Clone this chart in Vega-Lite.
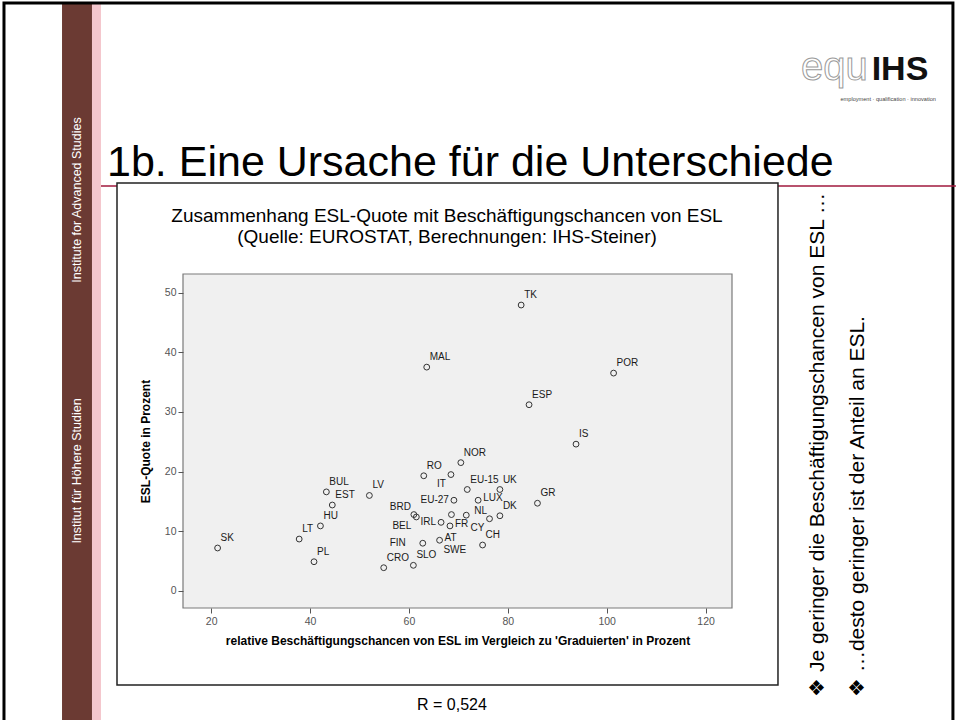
{
  "$schema": "https://vega.github.io/schema/vega-lite/v6.json",
  "width": 549,
  "height": 334,
  "autosize": {"type": "none"},
  "padding": {"left": 183, "top": 274, "right": 224, "bottom": 112},
  "background": "white",
  "config": {
    "font": "Liberation Sans",
    "view": {"fill": null, "stroke": null}
  },
  "datasets": {
    "esl": [
      {"label": "SK", "x": 21.3, "y": 7.2},
      {"label": "LT", "x": 37.8, "y": 8.7},
      {"label": "PL", "x": 40.8, "y": 4.9},
      {"label": "HU", "x": 42.1, "y": 10.9},
      {"label": "EST", "x": 44.5, "y": 14.4},
      {"label": "BUL", "x": 43.3, "y": 16.6},
      {"label": "LV", "x": 52.0, "y": 16.0},
      {"label": "CRO", "x": 54.9, "y": 3.9},
      {"label": "SLO", "x": 60.9, "y": 4.3},
      {"label": "FIN", "x": 62.8, "y": 8.0},
      {"label": "BRD", "x": 61.0, "y": 12.8},
      {"label": "BEL", "x": 61.5, "y": 12.4},
      {"label": "IRL", "x": 66.5, "y": 11.5},
      {"label": "RO", "x": 63.0, "y": 19.3},
      {"label": "IT", "x": 68.5, "y": 19.5},
      {"label": "NOR", "x": 70.5, "y": 21.5},
      {"label": "EU-15", "x": 71.8, "y": 17.0},
      {"label": "UK", "x": 78.4, "y": 17.0},
      {"label": "EU-27", "x": 69.1, "y": 15.2},
      {"label": "LUX", "x": 74.0, "y": 15.2},
      {"label": "AT", "x": 66.2, "y": 8.5},
      {"label": "SWE", "x": 68.6, "y": 12.8},
      {"label": "FR", "x": 68.3, "y": 10.9},
      {"label": "NL", "x": 71.6, "y": 12.7},
      {"label": "CY", "x": 76.3, "y": 12.1},
      {"label": "DK", "x": 78.4, "y": 12.6},
      {"label": "CH", "x": 74.9, "y": 7.7},
      {"label": "GR", "x": 86.0, "y": 14.7},
      {"label": "IS", "x": 93.8, "y": 24.6},
      {"label": "ESP", "x": 84.3, "y": 31.2},
      {"label": "MAL", "x": 63.6, "y": 37.5},
      {"label": "TK", "x": 82.7, "y": 47.9},
      {"label": "POR", "x": 101.4, "y": 36.5}
    ]
  },
  "data": {"name": "esl"},
  "layer": [
    {
      "data": {"values": [{}]},
      "mark": {"type": "rect", "fill": "#6b3a33"},
      "encoding": {
        "x": {"datum": -10.17}, "x2": {"datum": -4.11},
        "y": {"datum": 98.49}, "y2": {"datum": -35}
      }
    },
    {
      "data": {"values": [{}]},
      "mark": {"type": "rect", "fill": "#f4c6cd"},
      "encoding": {
        "x": {"datum": -4.11}, "x2": {"datum": -2.29},
        "y": {"datum": 98.49}, "y2": {"datum": -35}
      }
    },
    {
      "data": {"values": [{}]},
      "mark": {"type": "rect", "fillOpacity": 0, "stroke": "black", "strokeWidth": 3},
      "encoding": {
        "x": {"datum": -21.91}, "x2": {"datum": 170.04},
        "y": {"datum": 98.49}, "y2": {"datum": -35}
      }
    },
    {
      "data": {"values": [{}]},
      "mark": {"type": "rule", "color": "#a0193c", "strokeWidth": 1.5},
      "encoding": {
        "x": {"datum": -2.29}, "x2": {"datum": 170.65},
        "y": {"datum": 67.84}
      }
    },
    {
      "data": {"values": [{}]},
      "mark": {"type": "rect", "fill": "white", "stroke": "#222222", "strokeWidth": 1.5},
      "encoding": {
        "x": {"datum": 0.95}, "x2": {"datum": 134.65},
        "y": {"datum": 68.34}, "y2": {"datum": -15.74}
      }
    },
    {
      "data": {"values": [{}]},
      "mark": {"type": "rect", "fill": "#f0f0f0", "stroke": "#7a7a7a", "strokeWidth": 1.2},
      "encoding": {
        "x": {"datum": 14.3}, "x2": {"datum": 125.35},
        "y": {"datum": -2.85}, "y2": {"datum": 53.1}
      }
    },
    {
      "mark": {"type": "point", "shape": "circle", "filled": false, "stroke": "#333333", "strokeWidth": 1, "size": 34, "opacity": 1},
      "encoding": {
        "x": {
          "field": "x", "type": "quantitative",
          "scale": {"domain": [14.3, 125.35], "nice": false, "zero": false},
          "axis": {
            "values": [20, 40, 60, 80, 100, 120],
            "title": "relative Beschäftigungschancen von ESL im Vergleich zu 'Graduierten' in Prozent",
            "titleFontSize": 12, "titleFontWeight": "bold", "titleColor": "#000000", "titlePadding": 9,
            "labelColor": "#555555", "labelFontSize": 10.5, "labelPadding": 3,
            "tickColor": "#555555", "tickSize": 5, "domain": false, "grid": false, "zindex": 1
          }
        },
        "y": {
          "field": "y", "type": "quantitative",
          "scale": {"domain": [-2.85, 53.1], "nice": false, "zero": false},
          "axis": {
            "values": [0, 10, 20, 30, 40, 50],
            "title": "ESL-Quote in Prozent",
            "titleFontSize": 12, "titleFontWeight": "bold", "titleColor": "#000000", "titlePadding": 12,
            "labelColor": "#555555", "labelFontSize": 10.5, "labelPadding": 2,
            "tickColor": "#555555", "tickSize": 5, "domain": false, "grid": false, "zindex": 1
          }
        }
      }
    },
    {
      "transform": [{"filter": {"field": "label", "oneOf": ["SK", "LT", "PL", "HU", "EST", "BUL", "LV", "CRO", "SLO", "RO", "UK", "DK", "CH", "GR", "ESP", "TK", "POR", "NOR", "MAL", "IS", "EU-15"]}}],
      "mark": {"type": "text", "align": "left", "baseline": "middle", "dx": 3, "dy": -10, "fontSize": 10, "color": "#1a1a1a"},
      "encoding": {"x": {"field": "x", "type": "quantitative"}, "y": {"field": "y", "type": "quantitative"}, "text": {"field": "label"}}
    },
    {
      "transform": [{"filter": {"field": "label", "oneOf": ["LUX", "FR", "AT"]}}],
      "mark": {"type": "text", "align": "left", "baseline": "middle", "dx": 5, "dy": -2, "fontSize": 10, "color": "#1a1a1a"},
      "encoding": {"x": {"field": "x", "type": "quantitative"}, "y": {"field": "y", "type": "quantitative"}, "text": {"field": "label"}}
    },
    {
      "transform": [{"filter": {"field": "label", "oneOf": ["IRL", "EU-27"]}}],
      "mark": {"type": "text", "align": "right", "baseline": "middle", "dx": -5, "dy": 0, "fontSize": 10, "color": "#1a1a1a"},
      "encoding": {"x": {"field": "x", "type": "quantitative"}, "y": {"field": "y", "type": "quantitative"}, "text": {"field": "label"}}
    },
    {
      "transform": [{"filter": {"field": "label", "oneOf": ["FIN"]}}],
      "mark": {"type": "text", "align": "right", "baseline": "middle", "dx": -17, "dy": 0, "fontSize": 10, "color": "#1a1a1a"},
      "encoding": {"x": {"field": "x", "type": "quantitative"}, "y": {"field": "y", "type": "quantitative"}, "text": {"field": "label"}}
    },
    {
      "transform": [{"filter": {"field": "label", "oneOf": ["BRD"]}}],
      "mark": {"type": "text", "align": "right", "baseline": "middle", "dx": -3, "dy": -8, "fontSize": 10, "color": "#1a1a1a"},
      "encoding": {"x": {"field": "x", "type": "quantitative"}, "y": {"field": "y", "type": "quantitative"}, "text": {"field": "label"}}
    },
    {
      "transform": [{"filter": {"field": "label", "oneOf": ["BEL", "IT", "CY"]}}],
      "mark": {"type": "text", "align": "right", "baseline": "middle", "dx": -5, "dy": 9, "fontSize": 10, "color": "#1a1a1a"},
      "encoding": {"x": {"field": "x", "type": "quantitative"}, "y": {"field": "y", "type": "quantitative"}, "text": {"field": "label"}}
    },
    {
      "transform": [{"filter": {"field": "label", "oneOf": ["NL"]}}],
      "mark": {"type": "text", "align": "left", "baseline": "middle", "dx": 8, "dy": -4, "fontSize": 10, "color": "#1a1a1a"},
      "encoding": {"x": {"field": "x", "type": "quantitative"}, "y": {"field": "y", "type": "quantitative"}, "text": {"field": "label"}}
    },
    {
      "transform": [{"filter": {"field": "label", "oneOf": ["SWE"]}}],
      "mark": {"type": "text", "align": "left", "baseline": "middle", "dx": -8, "dy": 35, "fontSize": 10, "color": "#1a1a1a"},
      "encoding": {"x": {"field": "x", "type": "quantitative"}, "y": {"field": "y", "type": "quantitative"}, "text": {"field": "label"}}
    },
    {
      "data": {"values": [{}]},
      "mark": {"type": "text", "text": "Institute for Advanced Studies", "angle": 270, "align": "center", "baseline": "middle", "fontSize": 12.5, "color": "white"},
      "encoding": {"x": {"datum": -7.14}, "y": {"datum": 65.5}}
    },
    {
      "data": {"values": [{}]},
      "mark": {"type": "text", "text": "Institut für Höhere Studien", "angle": 270, "align": "center", "baseline": "middle", "fontSize": 12.5, "color": "white"},
      "encoding": {"x": {"datum": -7.14}, "y": {"datum": 20.1}}
    },
    {
      "data": {"values": [{}]},
      "mark": {"type": "text", "text": "equ", "align": "left", "baseline": "alphabetic", "fontSize": 40, "fill": "white", "stroke": "#9a9a9a", "strokeWidth": 1},
      "encoding": {"x": {"datum": 139.3}, "y": {"datum": 85.6}}
    },
    {
      "data": {"values": [{}]},
      "mark": {"type": "text", "text": "IHS", "align": "left", "baseline": "alphabetic", "fontSize": 34, "fontWeight": "bold", "color": "#111111"},
      "encoding": {"x": {"datum": 153.6}, "y": {"datum": 85.6}}
    },
    {
      "data": {"values": [{}]},
      "mark": {"type": "text", "text": "employment · qualification · innovation", "align": "right", "baseline": "middle", "fontSize": 5.6, "color": "#444444"},
      "encoding": {"x": {"datum": 166.61}, "y": {"datum": 82.41}}
    },
    {
      "data": {"values": [{}]},
      "mark": {"type": "text", "text": "1b. Eine Ursache für die Unterschiede", "align": "left", "baseline": "alphabetic", "fontSize": 43, "color": "#000000"},
      "encoding": {"x": {"datum": -1.07}, "y": {"datum": 69.52}}
    },
    {
      "data": {"values": [{}]},
      "mark": {"type": "text", "text": "Zusammenhang ESL-Quote mit Beschäftigungschancen von ESL", "align": "center", "baseline": "middle", "fontSize": 19, "color": "#000000"},
      "encoding": {"x": {"datum": 67.7}, "y": {"datum": 62.82}}
    },
    {
      "data": {"values": [{}]},
      "mark": {"type": "text", "text": "(Quelle: EUROSTAT, Berechnungen: IHS-Steiner)", "align": "center", "baseline": "middle", "fontSize": 19, "color": "#000000"},
      "encoding": {"x": {"datum": 67.7}, "y": {"datum": 59.3}}
    },
    {
      "data": {"values": [{}]},
      "mark": {"type": "text", "text": "R = 0,524", "align": "center", "baseline": "middle", "fontSize": 16, "color": "#000000"},
      "encoding": {"x": {"datum": 68.71}, "y": {"datum": -19.09}}
    },
    {
      "data": {"values": [{}]},
      "mark": {"type": "text", "text": "❖   Je geringer die Beschäftigungschancen von ESL …", "angle": 270, "align": "left", "baseline": "middle", "fontSize": 21, "color": "#000000"},
      "encoding": {"x": {"datum": 142.74}, "y": {"datum": -17.75}}
    },
    {
      "data": {"values": [{}]},
      "mark": {"type": "text", "text": "❖   …desto geringer ist der Anteil an ESL.", "angle": 270, "align": "left", "baseline": "middle", "fontSize": 21, "color": "#000000"},
      "encoding": {"x": {"datum": 150.83}, "y": {"datum": -17.75}}
    }
  ]
}
